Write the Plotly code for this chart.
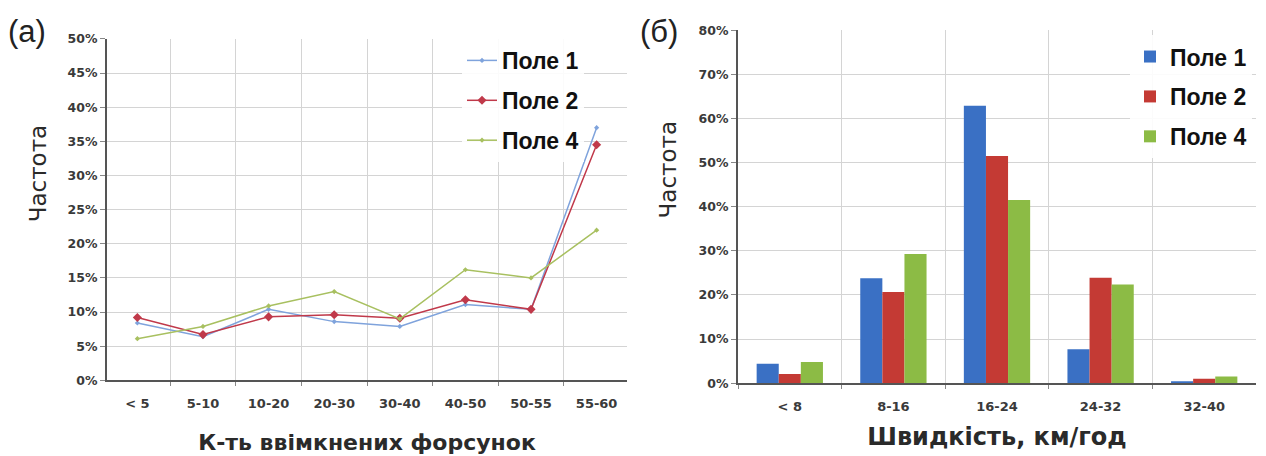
import plotly.graph_objects as go

# ---- data: panel (а) ----
nozzle_cats = ["< 5", "5-10", "10-20", "20-30", "30-40", "40-50", "50-55", "55-60"]
a_pole1 = [0.084, 0.064, 0.104, 0.086, 0.079, 0.111, 0.104, 0.370]
a_pole2 = [0.092, 0.067, 0.093, 0.096, 0.091, 0.118, 0.104, 0.345]
a_pole4 = [0.061, 0.079, 0.109, 0.130, 0.090, 0.162, 0.150, 0.220]

# ---- data: panel (б) ----
speed_cats = ["< 8", "8-16", "16-24", "24-32", "32-40"]
b_pole1 = [0.044, 0.238, 0.629, 0.077, 0.003]
b_pole2 = [0.021, 0.207, 0.515, 0.239, 0.010]
b_pole4 = [0.048, 0.293, 0.415, 0.224, 0.015]

series_names = ["Поле 1", "Поле 2", "Поле 4"]
line_colors = ["#7fa3dc", "#c0394a", "#a8c060"]
bar_colors = ["#3a70c4", "#c43a34", "#8cbb45"]

W, H = 1266, 456
fig = go.Figure()

for i, (vals, col) in enumerate(zip([a_pole1, a_pole2, a_pole4], line_colors)):
    fig.add_trace(go.Scatter(
        x=nozzle_cats, y=vals, name=series_names[i], mode="lines+markers",
        line=dict(color=col, width=1.5),
        marker=dict(symbol="diamond", size=7 if i == 1 else 4, color=col),
        xaxis="x", yaxis="y", legend="legend", legendgroup="a%d" % i,
    ))

for i, (vals, col) in enumerate(zip([b_pole1, b_pole2, b_pole4], bar_colors)):
    fig.add_trace(go.Bar(
        x=speed_cats, y=vals, name=series_names[i], marker=dict(color=col, line=dict(width=0)),
        xaxis="x2", yaxis="y2", legend="legend2", legendgroup="b%d" % i,
    ))

ytickfont = dict(family="DejaVu Sans", size=12.5, color="#3a3a3a", weight="bold")
xtickfont = dict(family="DejaVu Sans", size=13, color="#3a3a3a", weight="bold")
ytitlefont = dict(family="DejaVu Sans", size=23, color="#2a2a2a")

def xa(domain, anchor, title, tsize, standoff):
    return dict(domain=domain, anchor=anchor, type="category", tickson="boundaries",
                showgrid=True, gridcolor="#d4d4d4", gridwidth=1,
                showline=True, linecolor="#555555", linewidth=2,
                ticks="outside", ticklen=4, tickcolor="#888888", ticklabelstandoff=10,
                tickfont=xtickfont, mirror=False, zeroline=False,
                title=dict(text=title, standoff=standoff,
                           font=dict(family="DejaVu Sans", size=tsize, color="#2a2a2a", weight="bold")))

def ya(domain, anchor, rng, dt):
    return dict(domain=domain, anchor=anchor, range=rng, dtick=dt, tickformat=".0%",
                showgrid=True, gridcolor="#d4d4d4", gridwidth=1,
                showline=True, linecolor="#555555", linewidth=2,
                ticks="outside", ticklen=5, tickcolor="#888888",
                tickfont=ytickfont, zeroline=False)

legfont = dict(family="Liberation Sans", size=23, color="#111111", weight="bold")

fig.update_layout(
    width=W, height=H, margin=dict(l=0, r=0, t=0, b=0),
    paper_bgcolor="white", plot_bgcolor="white",
    barmode="group", bargap=0.36, bargroupgap=0,
    xaxis=xa([107 / W, 627 / W], "y", "К-ть ввімкнених форсунок", 22, 25),
    yaxis=ya([1 - 385 / H, 1 - 32 / H], "x", [0, 0.5], 0.05),
    xaxis2=xa([738 / W, 1256 / W], "y2", "Швидкість, км/год", 24, 15),
    yaxis2=ya([1 - 388 / H, 1 - 23 / H], "x2", [0, 0.8], 0.1),
    legend=dict(x=462 / W, y=1 - 32 / H, xanchor="left", yanchor="top",
                bgcolor="rgba(255,255,255,0.9)", traceorder="grouped", tracegroupgap=7,
                font=legfont, itemwidth=30),
    legend2=dict(x=1130 / W, y=1 - 28 / H, xanchor="left", yanchor="top",
                 bgcolor="rgba(255,255,255,0.9)", traceorder="grouped", tracegroupgap=7,
                 font=legfont, itemwidth=30),
    showlegend=True,
)

# y-axis titles placed like the reference (above domain centre)
for xc, yc in [(38, 172), (668, 168)]:
    fig.add_annotation(text="Частота", x=xc / W, y=1 - yc / H, xref="paper", yref="paper",
                       xanchor="center", yanchor="middle", textangle=-90, showarrow=False,
                       font=ytitlefont)

fig.add_annotation(text="(а)", x=6 / W, y=1 - 24 / H, xref="paper", yref="paper",
                   xanchor="left", yanchor="middle", showarrow=False,
                   font=dict(family="Liberation Sans", size=31, color="#222222"))
fig.add_annotation(text="(б)", x=638 / W, y=1 - 24 / H, xref="paper", yref="paper",
                   xanchor="left", yanchor="middle", showarrow=False,
                   font=dict(family="Liberation Sans", size=31, color="#222222"))

fig.write_html("out.html")
